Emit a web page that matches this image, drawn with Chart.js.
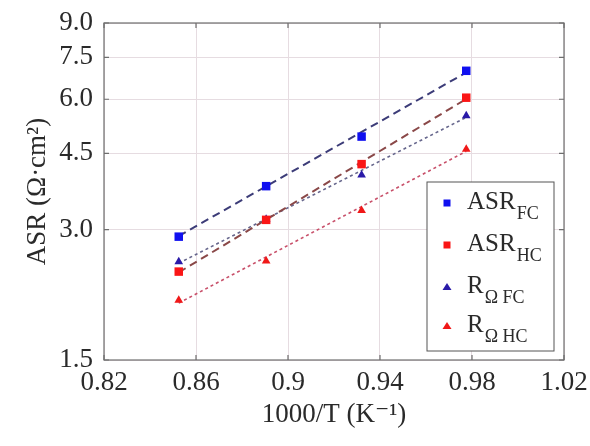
<!DOCTYPE html>
<html>
<head>
<meta charset="utf-8">
<script src="https://cdn.jsdelivr.net/npm/chart.js@4"></script>
<style>
  body { margin:0; background:#fff; }
  #wrap { width:590px; height:446px; }
</style>
</head>
<body>
<div id="wrap"><canvas id="asrChart" width="590" height="446"></canvas></div>
<script>
// --- datos ---
const invT = [0.8525, 0.8905, 0.9320, 0.9775];      // 1000/T (K^-1)
const asrFC = [2.89, 3.78, 4.92, 6.98];
const asrHC = [2.40, 3.16, 4.25, 6.05];
const rOhmFC = [2.53, 3.17, 4.01, 5.50];
const rOhmHC = [2.06, 2.54, 3.32, 4.60];

// rectas de ajuste (extremos)
const fitX = [0.8525, 0.9775];
const fitAsrFC = [2.90, 6.92];
const fitAsrHC = [2.39, 6.01];
const fitROhmFC = [2.51, 5.45];
const fitROhmHC = [2.03, 4.55];

const xTicks = [0.82, 0.86, 0.90, 0.94, 0.98, 1.02];
const xTickLabels = ['0.82', '0.86', '0.9', '0.94', '0.98', '1.02'];
const yTicks = [1.5, 3.0, 4.5, 6.0, 7.5, 9.0];
const yTickLabels = ['1.5', '3.0', '4.5', '6.0', '7.5', '9.0'];

const legendMain = ['ASR', 'ASR', 'R', 'R'];
const legendSub = ['FC', 'HC', 'Ω FC', 'Ω HC'];

const SERIF = '"Liberation Serif", "DejaVu Serif", serif';
const TXT = '#2a2a2a';
const FS = 27;

const pts = (xs, ys) => xs.map((x, i) => ({ x: x, y: ys[i] }));

function pointSet(data, color, shape, r) {
  return { data: pts(invT, data), showLine: false, pointStyle: shape, pointRadius: r,
    pointHoverRadius: r, backgroundColor: color, borderColor: color, borderWidth: 0, order: 1 };
}
function fitSet(data, color, dash, w) {
  return { data: pts(fitX, data), showLine: true, pointRadius: 0, borderColor: color,
    borderWidth: w, borderDash: dash, fill: false, order: 10 };
}

const markerSets = [
  pointSet(asrFC, '#1010f0', 'rect', 6),
  pointSet(asrHC, '#fa1616', 'rect', 6),
  pointSet(rOhmFC, '#2a1aa8', 'triangle', 5),
  pointSet(rOhmHC, '#f01818', 'triangle', 5)
];

// marco, marcas interiores y leyenda
const frameLegend = {
  id: 'frameLegend',
  afterDraw(chart) {
    const { ctx, chartArea: a, scales } = chart;
    ctx.save();
    ctx.strokeStyle = '#6e6e6e';
    ctx.lineWidth = 1.2;
    ctx.strokeRect(a.left, a.top, a.right - a.left, a.bottom - a.top);
    ctx.beginPath();
    xTicks.forEach(v => {
      const px = scales.x.getPixelForValue(v);
      ctx.moveTo(px, a.bottom); ctx.lineTo(px, a.bottom - 5);
      ctx.moveTo(px, a.top); ctx.lineTo(px, a.top + 5);
    });
    yTicks.forEach(v => {
      const py = scales.y.getPixelForValue(v);
      ctx.moveTo(a.left, py); ctx.lineTo(a.left + 5, py);
      ctx.moveTo(a.right, py); ctx.lineTo(a.right - 5, py);
    });
    ctx.stroke();

    // leyenda
    const bx = 427, by = 182, bw = 127, bh = 169;
    ctx.fillStyle = '#fff';
    ctx.fillRect(bx, by, bw, bh);
    ctx.strokeStyle = '#555';
    ctx.lineWidth = 1;
    ctx.strokeRect(bx, by, bw, bh);
    const rows = [203, 245, 287, 326];
    rows.forEach((ry, i) => {
      const ds = markerSets[i];
      const mx = 447;
      ctx.fillStyle = ds.backgroundColor;
      if (ds.pointStyle === 'rect') {
        ctx.fillRect(mx - 3.5, ry - 3.5, 7, 7);
      } else {
        ctx.beginPath();
        ctx.moveTo(mx, ry - 4); ctx.lineTo(mx + 4.5, ry + 3); ctx.lineTo(mx - 4.5, ry + 3);
        ctx.closePath(); ctx.fill();
      }
      ctx.fillStyle = TXT;
      ctx.textBaseline = 'alphabetic';
      ctx.textAlign = 'left';
      ctx.font = '25px ' + SERIF;
      const tx = 467;
      ctx.fillText(legendMain[i], tx, ry + 6);
      const w = ctx.measureText(legendMain[i]).width;
      ctx.font = '18px ' + SERIF;
      ctx.fillText(legendSub[i], tx + w + 1, ry + 16);
    });
    ctx.restore();
  }
};

new Chart(document.getElementById('asrChart'), {
  type: 'scatter',
  data: {
    datasets: markerSets.concat([
      fitSet(fitAsrFC, '#3c3c78', [8, 5], 2),
      fitSet(fitAsrHC, '#8a4848', [8, 5], 2),
      fitSet(fitROhmFC, '#66668c', [3, 3], 1.6),
      fitSet(fitROhmHC, '#c8506a', [3, 3], 1.6)
    ])
  },
  options: {
    responsive: false,
    animation: false,
    events: [],
    layout: { padding: { left: 0, right: 26, top: 23, bottom: 15 } },
    plugins: { legend: { display: false }, tooltip: { enabled: false } },
    scales: {
      x: {
        type: 'linear', min: 0.82, max: 1.02,
        afterBuildTicks: s => { s.ticks = xTicks.map(v => ({ value: v })); },
        afterFit: s => { s.height = 71; s.paddingLeft = 0; s.paddingRight = 0; },
        grid: { color: '#e6dce1', drawTicks: false },
        border: { display: false },
        ticks: { color: TXT, font: { family: SERIF, size: FS }, padding: 7,
          maxRotation: 0, callback: (v, i) => xTickLabels[i] },
        title: { display: true, text: '1000/T (K⁻¹)', color: TXT,
          font: { family: SERIF, size: FS }, padding: { top: 0, bottom: 0 } }
      },
      y: {
        type: 'logarithmic', min: 1.5, max: 9.0,
        afterBuildTicks: s => { s.ticks = yTicks.map(v => ({ value: v })); },
        afterFit: s => { s.width = 104; s.paddingTop = 0; s.paddingBottom = 0; },
        grid: { color: '#e6dce1', drawTicks: false },
        border: { display: false },
        ticks: { color: TXT, font: { family: SERIF, size: FS }, padding: 11,
          callback: (v, i) => yTickLabels[i] },
        title: { display: true, text: 'ASR (Ω·cm²)', color: TXT,
          font: { family: SERIF, size: FS }, padding: { top: 22, bottom: 0 } }
      }
    }
  },
  plugins: [frameLegend]
});
</script>
</body>
</html>
